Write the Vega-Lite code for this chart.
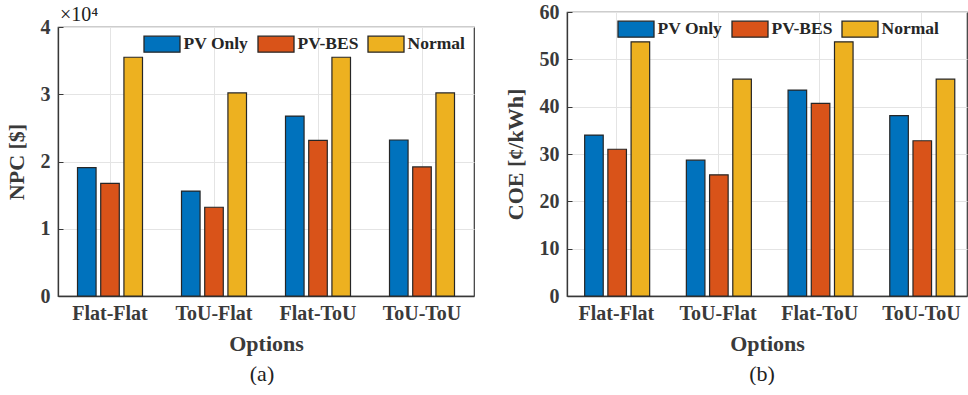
{
  "$schema": "https://vega.github.io/schema/vega-lite/v6.json",
  "padding": {"left": 4, "top": 1, "right": 0, "bottom": 0},
  "background": "white",
  "spacing": 8,
  "data": {
    "values": [
      {"option": "Flat-Flat", "system": "PV Only", "npc": 19100, "coe": 34.0},
      {"option": "Flat-Flat", "system": "PV-BES", "npc": 16750, "coe": 31.0},
      {"option": "Flat-Flat", "system": "Normal", "npc": 35500, "coe": 53.7},
      {"option": "ToU-Flat", "system": "PV Only", "npc": 15600, "coe": 28.7},
      {"option": "ToU-Flat", "system": "PV-BES", "npc": 13200, "coe": 25.6},
      {"option": "ToU-Flat", "system": "Normal", "npc": 30200, "coe": 45.8},
      {"option": "Flat-ToU", "system": "PV Only", "npc": 26750, "coe": 43.5},
      {"option": "Flat-ToU", "system": "PV-BES", "npc": 23150, "coe": 40.7},
      {"option": "Flat-ToU", "system": "Normal", "npc": 35500, "coe": 53.7},
      {"option": "ToU-ToU", "system": "PV Only", "npc": 23200, "coe": 38.1},
      {"option": "ToU-ToU", "system": "PV-BES", "npc": 19200, "coe": 32.8},
      {"option": "ToU-ToU", "system": "Normal", "npc": 30200, "coe": 45.8}
    ]
  },
  "config": {
    "view": {"stroke": "#383838", "strokeWidth": 1.2},
    "font": "Liberation Serif",
    "axis": {
      "labelFont": "Liberation Serif",
      "titleFont": "Liberation Serif",
      "labelFontSize": 20,
      "labelFontWeight": "bold",
      "titleFontSize": 22,
      "titleFontWeight": "bold",
      "labelColor": "#3a3a3a",
      "titleColor": "#3a3a3a",
      "domainColor": "#383838",
      "domainWidth": 1.3,
      "tickColor": "#383838",
      "tickSize": -5,
      "gridColor": "#e4e4e4",
      "gridWidth": 1
    },
    "legend": {
      "labelFont": "Liberation Serif",
      "labelFontSize": 17.5,
      "labelFontWeight": "bold",
      "labelColor": "#262626",
      "symbolType": "M-2.25,-1H2.25V1H-2.25Z",
      "symbolSize": 256,
      "symbolStrokeColor": "#262626",
      "symbolStrokeWidth": 1.3,
      "symbolOpacity": 1,
      "columnPadding": 6,
      "labelOffset": 12.5,
      "direction": "horizontal"
    },
    "title": {"font": "Liberation Serif", "fontSize": 20, "fontWeight": "normal", "color": "#222"}
  },
  "vconcat": [
    {
      "spacing": 28,
      "hconcat": [
        {
          "bounds": "flush",
          "spacing": 5,
          "vconcat": [
            {
              "width": 416,
              "height": 10,
              "view": {"stroke": null},
              "data": {"values": []},
              "mark": "text",
              "encoding": {}
            },
            {
              "width": 416,
              "height": 269,
              "title": {"text": "×10⁴", "anchor": "start", "frame": "group", "offset": -8, "dx": 2},
              "mark": {"type": "bar", "stroke": "#262626", "strokeWidth": 1.2},
              "encoding": {
                "x": {"field": "option", "type": "nominal", "sort": ["Flat-Flat", "ToU-Flat", "Flat-ToU", "ToU-ToU"],
                      "scale": {"paddingInner": 0.375, "paddingOuter": 0.1875},
                      "axis": {"title": "Options", "labelAngle": 0, "grid": true, "labelPadding": 12, "titlePadding": 10}},
                "xOffset": {"field": "system", "type": "nominal", "sort": ["PV Only", "PV-BES", "Normal"],
                            "scale": {"paddingInner": 0.2, "paddingOuter": 0}},
                "y": {"field": "npc", "type": "quantitative", "scale": {"domain": [0, 40000], "nice": false},
                      "axis": {"title": "NPC [$]", "values": [0, 10000, 20000, 30000, 40000], "labelExpr": "datum.value / 10000", "grid": true, "labelPadding": 13, "titlePadding": 12}},
                "color": {"field": "system", "type": "nominal", "sort": ["PV Only", "PV-BES", "Normal"],
                          "scale": {"domain": ["PV Only", "PV-BES", "Normal"], "range": ["#0072BD", "#D95319", "#EDB120"]},
                          "legend": {"orient": "none", "legendX": 95, "legendY": 23, "title": null}}
              }
            }
          ]
        },
        {
          "width": 400,
          "height": 284,
          "mark": {"type": "bar", "stroke": "#262626", "strokeWidth": 1.2},
          "encoding": {
            "x": {"field": "option", "type": "nominal", "sort": ["Flat-Flat", "ToU-Flat", "Flat-ToU", "ToU-ToU"],
                  "scale": {"paddingInner": 0.377, "paddingOuter": 0.155, "align": 0.56},
                  "axis": {"title": "Options", "labelAngle": 0, "grid": true, "labelPadding": 12, "titlePadding": 10}},
            "xOffset": {"field": "system", "type": "nominal", "sort": ["PV Only", "PV-BES", "Normal"],
                        "scale": {"paddingInner": 0.2, "paddingOuter": 0}},
            "y": {"field": "coe", "type": "quantitative", "scale": {"domain": [0, 60], "nice": false},
                  "axis": {"title": "COE [¢/kWh]", "values": [0, 10, 20, 30, 40, 50, 60], "grid": true, "labelPadding": 13, "titlePadding": 12}},
            "color": {"field": "system", "type": "nominal", "sort": ["PV Only", "PV-BES", "Normal"],
                      "scale": {"domain": ["PV Only", "PV-BES", "Normal"], "range": ["#0072BD", "#D95319", "#EDB120"]},
                      "legend": {"orient": "none", "legendX": 60, "legendY": 8, "title": null}}
          }
        }
      ],
      "resolve": {"scale": {"color": "independent"}}
    },
    {
      "spacing": 254,
      "hconcat": [
        {
          "width": 408,
          "height": 20,
          "view": {"stroke": null},
          "data": {"values": [{"caption": "(a)"}]},
          "mark": {"type": "text", "font": "Liberation Serif", "fontSize": 22, "fontWeight": "normal", "color": "#222", "baseline": "middle"},
          "encoding": {"text": {"field": "caption", "type": "nominal"}}
        },
        {
          "width": 84,
          "height": 20,
          "view": {"stroke": null},
          "data": {"values": [{"caption": "(b)"}]},
          "mark": {"type": "text", "font": "Liberation Serif", "fontSize": 22, "fontWeight": "normal", "color": "#222", "baseline": "middle"},
          "encoding": {"text": {"field": "caption", "type": "nominal"}}
        }
      ]
    }
  ]
}
